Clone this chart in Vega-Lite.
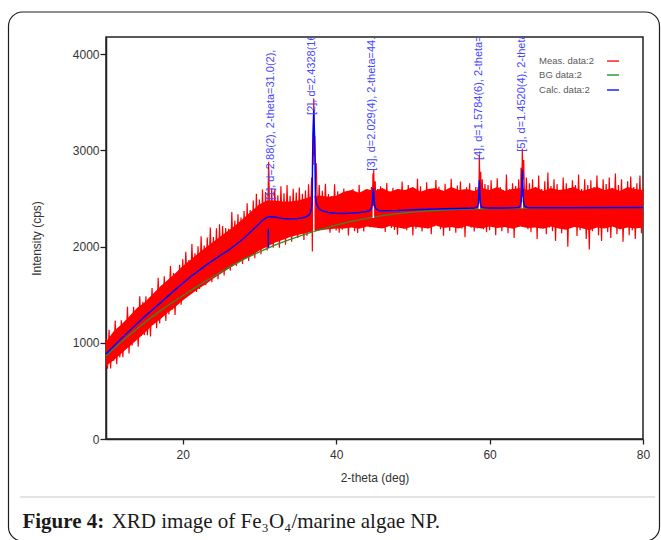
{
"$schema": "https://vega.github.io/schema/vega-lite/v6.json",
"width": 537, "height": 402,
"autosize": {"type": "none"},
"padding": {"left": 106, "top": 37, "right": 18, "bottom": 101},
"background": "white",
"config": {
  "view": {"stroke": "#222", "strokeWidth": 1.5},
  "font": "Liberation Sans",
  "axis": {"grid": false, "domainColor": "#222", "domainWidth": 1.5, "tickColor": "#222", "tickWidth": 1.3, "labelColor": "#333", "titleColor": "#333", "labelFontSize": 12, "titleFontSize": 12, "titleFontWeight": "normal", "labelFont": "Liberation Sans", "titleFont": "Liberation Sans"}
},
"datasets": {
  "core": [
{"t":10,"lo":760,"hi":1010},{"t":11,"lo":820,"hi":1120},{"t":12,"lo":890,"hi":1190},{"t":13,"lo":960,"hi":1270},
{"t":14,"lo":1030,"hi":1360},{"t":15,"lo":1100,"hi":1420},{"t":16,"lo":1180,"hi":1500},{"t":17,"lo":1240,"hi":1580},
{"t":18,"lo":1310,"hi":1650},{"t":19,"lo":1370,"hi":1720},{"t":20,"lo":1440,"hi":1800},{"t":21,"lo":1500,"hi":1860},
{"t":22,"lo":1560,"hi":1930},{"t":23,"lo":1610,"hi":1990},{"t":24,"lo":1670,"hi":2050},{"t":25,"lo":1720,"hi":2110},
{"t":26,"lo":1770,"hi":2170},{"t":27,"lo":1820,"hi":2230},{"t":28,"lo":1870,"hi":2300},{"t":29,"lo":1910,"hi":2370},
{"t":30,"lo":1960,"hi":2440},{"t":31,"lo":2000,"hi":2480},{"t":32,"lo":2040,"hi":2480},{"t":33,"lo":2070,"hi":2470},
{"t":34,"lo":2100,"hi":2470},{"t":35,"lo":2120,"hi":2480},{"t":36,"lo":2140,"hi":2500},{"t":37,"lo":2160,"hi":2530},
{"t":38,"lo":2170,"hi":2530},{"t":39,"lo":2180,"hi":2520},{"t":40,"lo":2190,"hi":2530},{"t":41,"lo":2190,"hi":2570},
{"t":42,"lo":2200,"hi":2590},{"t":43,"lo":2185,"hi":2560},{"t":44,"lo":2210,"hi":2600},{"t":45,"lo":2200,"hi":2580},
{"t":46,"lo":2190,"hi":2610},{"t":47,"lo":2215,"hi":2570},{"t":48,"lo":2200,"hi":2600},{"t":49,"lo":2185,"hi":2590},
{"t":50,"lo":2210,"hi":2620},{"t":51,"lo":2200,"hi":2570},{"t":52,"lo":2190,"hi":2600},{"t":53,"lo":2220,"hi":2610},
{"t":54,"lo":2195,"hi":2580},{"t":55,"lo":2205,"hi":2620},{"t":56,"lo":2190,"hi":2590},{"t":57,"lo":2215,"hi":2600},
{"t":58,"lo":2200,"hi":2580},{"t":59,"lo":2190,"hi":2610},{"t":60,"lo":2210,"hi":2590},{"t":61,"lo":2195,"hi":2620},
{"t":62,"lo":2205,"hi":2580},{"t":63,"lo":2185,"hi":2600},{"t":64,"lo":2210,"hi":2610},{"t":65,"lo":2195,"hi":2590},
{"t":66,"lo":2200,"hi":2620},{"t":67,"lo":2185,"hi":2580},{"t":68,"lo":2210,"hi":2610},{"t":69,"lo":2190,"hi":2590},
{"t":70,"lo":2175,"hi":2600},{"t":71,"lo":2205,"hi":2620},{"t":72,"lo":2195,"hi":2580},{"t":73,"lo":2170,"hi":2600},
{"t":74,"lo":2200,"hi":2620},{"t":75,"lo":2190,"hi":2590},{"t":76,"lo":2210,"hi":2610},{"t":77,"lo":2180,"hi":2580},
{"t":78,"lo":2200,"hi":2620},{"t":79,"lo":2190,"hi":2600},{"t":80,"lo":2200,"hi":2590}
  ],
  "meas": [
{"t":10.0,"v":1045},{"t":10.2,"v":731},{"t":10.4,"v":1137},{"t":10.6,"v":733},{"t":10.8,"v":1069},
{"t":11.0,"v":815},{"t":11.2,"v":1231},{"t":11.4,"v":777},{"t":11.6,"v":1153},{"t":11.8,"v":849},
{"t":12.0,"v":1235},{"t":12.2,"v":850},{"t":12.4,"v":1205},{"t":12.6,"v":950},{"t":12.8,"v":1375},
{"t":13.0,"v":890},{"t":13.2,"v":1285},{"t":13.4,"v":970},{"t":13.6,"v":1375},{"t":13.8,"v":1030},
{"t":14.0,"v":1335},{"t":14.2,"v":960},{"t":14.4,"v":1485},{"t":14.6,"v":1070},{"t":14.8,"v":1425},
{"t":15.0,"v":1080},{"t":15.2,"v":1484},{"t":15.4,"v":1078},{"t":15.6,"v":1432},{"t":15.8,"v":1066},
{"t":16.0,"v":1570},{"t":16.2,"v":1194},{"t":16.4,"v":1518},{"t":16.6,"v":1152},{"t":16.8,"v":1676},
{"t":17.0,"v":1200},{"t":17.2,"v":1594},{"t":17.4,"v":1288},{"t":17.6,"v":1692},{"t":17.8,"v":1226},
{"t":18.0,"v":1640},{"t":18.2,"v":1294},{"t":18.4,"v":1798},{"t":18.6,"v":1342},{"t":18.8,"v":1726},
{"t":19.0,"v":1290},{"t":19.2,"v":1704},{"t":19.4,"v":1408},{"t":19.6,"v":1812},{"t":19.8,"v":1396},
{"t":20.0,"v":1870},{"t":20.2,"v":1470},{"t":20.4,"v":1946},{"t":20.6,"v":1555},{"t":20.8,"v":1862},
{"t":21.0,"v":1520},{"t":21.2,"v":2027},{"t":21.4,"v":1580},{"t":21.6,"v":1931},{"t":21.8,"v":1530},
{"t":22.0,"v":2005},{"t":22.2,"v":1560},{"t":22.4,"v":2109},{"t":22.6,"v":1640},{"t":22.8,"v":2013},
{"t":23.0,"v":1600},{"t":23.2,"v":2096},{"t":23.4,"v":1690},{"t":23.6,"v":2198},{"t":23.8,"v":1630},
{"t":24.0,"v":2100},{"t":24.2,"v":1720},{"t":24.4,"v":2192},{"t":24.6,"v":1660},{"t":24.8,"v":2234},
{"t":25.0,"v":1760},{"t":25.2,"v":2215},{"t":25.4,"v":1700},{"t":25.6,"v":2195},{"t":25.8,"v":1800},
{"t":26.0,"v":2185},{"t":26.2,"v":1750},{"t":26.4,"v":2359},{"t":26.6,"v":1830},{"t":26.8,"v":2273},
{"t":27.0,"v":1800},{"t":27.2,"v":2338},{"t":27.4,"v":1880},{"t":27.6,"v":2304},{"t":27.8,"v":1820},
{"t":28.0,"v":2370},{"t":28.2,"v":1900},{"t":28.4,"v":2450},{"t":28.6,"v":1850},{"t":28.8,"v":2380},
{"t":29.0,"v":1930},{"t":29.2,"v":2480},{"t":29.4,"v":1880},{"t":29.6,"v":2550},{"t":29.8,"v":1980},
{"t":30.0,"v":2490},{"t":30.2,"v":1920},{"t":30.4,"v":2594},{"t":30.6,"v":2010},{"t":30.8,"v":2568},
{"t":31.0,"v":1960},{"t":31.2,"v":2882},{"t":31.4,"v":2040},{"t":31.6,"v":2606},{"t":31.8,"v":1990},
{"t":32.0,"v":2600},{"t":32.2,"v":2060},{"t":32.4,"v":2534},{"t":32.6,"v":1990},{"t":32.8,"v":2628},
{"t":33.0,"v":2080},{"t":33.2,"v":2554},{"t":33.4,"v":2020},{"t":33.6,"v":2642},{"t":33.8,"v":2100},
{"t":34.0,"v":2530},{"t":34.2,"v":2050},{"t":34.4,"v":2601},{"t":34.6,"v":2130},{"t":34.8,"v":2562},
{"t":35.0,"v":2090},{"t":35.2,"v":2615},{"t":35.4,"v":2150},{"t":35.6,"v":2550},{"t":35.8,"v":2070},
{"t":36.0,"v":2585},{"t":36.2,"v":2110},{"t":36.4,"v":2649},{"t":36.6,"v":2180},{"t":36.8,"v":2720},
{"t":36.9,"v":1950},{"t":36.95,"v":3000},{"t":37.0,"v":2850},{"t":37.08,"v":3540},{"t":37.15,"v":2950},
{"t":37.22,"v":3150},{"t":37.3,"v":2700},{"t":37.4,"v":2870},{"t":37.6,"v":2260},{"t":37.8,"v":2640},
{"t":38.0,"v":2190},{"t":38.2,"v":2580},{"t":38.4,"v":2200},{"t":38.6,"v":2654},{"t":38.8,"v":2221},
{"t":39.0,"v":2548},{"t":39.2,"v":2145},{"t":39.4,"v":2523},{"t":39.6,"v":2211},{"t":39.8,"v":2649},
{"t":40.0,"v":2167},{"t":40.2,"v":2575},{"t":40.4,"v":2145},{"t":40.6,"v":2505},{"t":40.8,"v":2175},
{"t":41.0,"v":2605},{"t":41.2,"v":2195},{"t":41.4,"v":2556},{"t":41.6,"v":2117},{"t":41.8,"v":2528},
{"t":42.0,"v":2219},{"t":42.2,"v":2600},{"t":42.4,"v":2161},{"t":42.6,"v":2502},{"t":42.8,"v":2143},
{"t":43.0,"v":2644},{"t":43.2,"v":2195},{"t":43.4,"v":2547},{"t":43.6,"v":2159},{"t":43.8,"v":2591},
{"t":44.0,"v":2213},{"t":44.2,"v":2577},{"t":44.4,"v":2202},{"t":44.6,"v":2620},{"t":44.7,"v":2330},
{"t":44.8,"v":2760},{"t":44.85,"v":2520},{"t":44.9,"v":2800},{"t":45.0,"v":2450},{"t":45.1,"v":2680},
{"t":45.2,"v":2280},{"t":45.4,"v":2600},{"t":45.6,"v":2195},{"t":45.8,"v":2628},
{"t":46.0,"v":2214},{"t":46.2,"v":2552},{"t":46.4,"v":2152},{"t":46.6,"v":2662},{"t":46.8,"v":2232},
{"t":47.0,"v":2572},{"t":47.2,"v":2193},{"t":47.4,"v":2613},{"t":47.6,"v":2173},{"t":47.8,"v":2543},
{"t":48.0,"v":2123},{"t":48.2,"v":2596},{"t":48.4,"v":2216},{"t":48.6,"v":2677},{"t":48.8,"v":2187},
{"t":49.0,"v":2539},{"t":49.2,"v":2170},{"t":49.4,"v":2641},{"t":49.6,"v":2232},{"t":49.8,"v":2584},
{"t":50.0,"v":2115},{"t":50.2,"v":2565},{"t":50.4,"v":2186},{"t":50.6,"v":2706},{"t":50.8,"v":2217},
{"t":51.0,"v":2628},{"t":51.2,"v":2158},{"t":51.4,"v":2578},{"t":51.6,"v":2249},{"t":51.8,"v":2669},
{"t":52.0,"v":2190},{"t":52.2,"v":2600},{"t":52.4,"v":2130},{"t":52.6,"v":2561},{"t":52.8,"v":2211},
{"t":53.0,"v":2692},{"t":53.2,"v":2242},{"t":53.4,"v":2622},{"t":53.6,"v":2182},{"t":53.8,"v":2583},
{"t":54.0,"v":2113},{"t":54.2,"v":2653},{"t":54.4,"v":2223},{"t":54.6,"v":2594},{"t":54.8,"v":2164},
{"t":55.0,"v":2705},{"t":55.2,"v":2205},{"t":55.4,"v":2565},{"t":55.6,"v":2145},{"t":55.8,"v":2635},
{"t":56.0,"v":2235},{"t":56.2,"v":2676},{"t":56.4,"v":2186},{"t":56.6,"v":2587},{"t":56.8,"v":2097},
{"t":57.0,"v":2618},{"t":57.2,"v":2228},{"t":57.4,"v":2658},{"t":57.6,"v":2198},{"t":57.8,"v":2578},
{"t":58.0,"v":2158},{"t":58.2,"v":2620},{"t":58.4,"v":2190},{"t":58.5,"v":2620},{"t":58.58,"v":2380},
{"t":58.67,"v":2950},{"t":58.75,"v":2560},{"t":58.85,"v":2780},{"t":58.95,"v":2300},{"t":59.05,"v":2700},
{"t":59.2,"v":2180},{"t":59.4,"v":2650},{"t":59.6,"v":2150},{"t":59.8,"v":2640},
{"t":60.0,"v":2170},{"t":60.2,"v":2690},{"t":60.4,"v":2230},{"t":60.6,"v":2580},{"t":60.8,"v":2120},
{"t":61.0,"v":2710},{"t":61.2,"v":2200},{"t":61.4,"v":2620},{"t":61.6,"v":2160},{"t":61.8,"v":2590},
{"t":62.0,"v":2240},{"t":62.2,"v":2750},{"t":62.4,"v":2140},{"t":62.6,"v":2600},{"t":62.8,"v":2210},
{"t":63.0,"v":2660},{"t":63.2,"v":2090},{"t":63.4,"v":2630},{"t":63.6,"v":2230},{"t":63.8,"v":2700},
{"t":64.0,"v":2250},{"t":64.1,"v":2820},{"t":64.2,"v":2560},{"t":64.27,"v":3020},{"t":64.35,"v":2700},
{"t":64.45,"v":2900},{"t":64.6,"v":2300},{"t":64.8,"v":2720},
{"t":65.0,"v":2180},{"t":65.2,"v":2660},{"t":65.4,"v":2150},{"t":65.6,"v":2700},{"t":65.8,"v":2230},
{"t":66.0,"v":2620},{"t":66.2,"v":2080},{"t":66.4,"v":2740},{"t":66.6,"v":2190},{"t":66.8,"v":2600},
{"t":67.0,"v":2240},{"t":67.2,"v":2680},{"t":67.4,"v":2130},{"t":67.6,"v":2770},{"t":67.8,"v":2200},
{"t":68.0,"v":2630},{"t":68.2,"v":2160},{"t":68.4,"v":2700},{"t":68.6,"v":2060},{"t":68.8,"v":2650},
{"t":69.0,"v":2220},{"t":69.2,"v":2590},{"t":69.4,"v":2140},{"t":69.6,"v":2720},{"t":69.8,"v":2180},
{"t":70.0,"v":2660},{"t":70.2,"v":2000},{"t":70.4,"v":2610},{"t":70.6,"v":2200},{"t":70.8,"v":2690},
{"t":71.0,"v":2230},{"t":71.2,"v":2640},{"t":71.4,"v":2110},{"t":71.6,"v":2750},{"t":71.8,"v":2170},
{"t":72.0,"v":2600},{"t":72.2,"v":2190},{"t":72.4,"v":2700},{"t":72.6,"v":2080},{"t":72.8,"v":2640},
{"t":73.0,"v":1970},{"t":73.2,"v":2690},{"t":73.4,"v":2160},{"t":73.6,"v":2620},{"t":73.8,"v":2230},
{"t":74.0,"v":2740},{"t":74.2,"v":2120},{"t":74.4,"v":2580},{"t":74.6,"v":2060},{"t":74.8,"v":2700},
{"t":75.0,"v":2200},{"t":75.2,"v":2650},{"t":75.4,"v":2150},{"t":75.6,"v":2720},{"t":75.8,"v":2090},
{"t":76.0,"v":2610},{"t":76.2,"v":2240},{"t":76.4,"v":2760},{"t":76.6,"v":2130},{"t":76.8,"v":2640},
{"t":77.0,"v":2180},{"t":77.2,"v":2700},{"t":77.4,"v":2050},{"t":77.6,"v":2590},{"t":77.8,"v":2210},
{"t":78.0,"v":2680},{"t":78.2,"v":2120},{"t":78.4,"v":2730},{"t":78.6,"v":2170},{"t":78.8,"v":2620},
{"t":79.0,"v":2080},{"t":79.2,"v":2660},{"t":79.4,"v":2200},{"t":79.6,"v":2740},{"t":79.8,"v":2140},
{"t":80.0,"v":2600}
  ],
  "bg": [
{"t":10,"v":865},{"t":12,"v":1010},{"t":14,"v":1145},{"t":16,"v":1270},{"t":18,"v":1385},{"t":20,"v":1490},
{"t":22,"v":1592},{"t":24,"v":1690},{"t":26,"v":1785},{"t":28,"v":1870},{"t":30,"v":1945},{"t":32,"v":2015},
{"t":34,"v":2075},{"t":36,"v":2130},{"t":38,"v":2180},{"t":40,"v":2225},{"t":42,"v":2262},{"t":44,"v":2295},
{"t":46,"v":2322},{"t":48,"v":2343},{"t":50,"v":2360},{"t":52,"v":2372},{"t":54,"v":2381},{"t":56,"v":2388},
{"t":58,"v":2393},{"t":60,"v":2396},{"t":64,"v":2400},{"t":70,"v":2403},{"t":80,"v":2405}
  ],
  "calc": [
{"t":10,"v":885},{"t":11,"v":965},{"t":12,"v":1045},{"t":13,"v":1120},{"t":14,"v":1195},{"t":15,"v":1270},
{"t":16,"v":1340},{"t":17,"v":1410},{"t":18,"v":1480},{"t":19,"v":1550},{"t":20,"v":1620},{"t":21,"v":1685},
{"t":22,"v":1745},{"t":23,"v":1805},{"t":24,"v":1860},{"t":25,"v":1915},{"t":26,"v":1965},{"t":27,"v":2025},
{"t":28,"v":2090},{"t":29,"v":2165},{"t":30,"v":2240},{"t":30.5,"v":2280},{"t":31,"v":2305},{"t":31.5,"v":2312},
{"t":32,"v":2308},{"t":32.5,"v":2300},{"t":33,"v":2294},{"t":34,"v":2290},{"t":35,"v":2293},{"t":35.5,"v":2298},
{"t":36,"v":2308},{"t":36.4,"v":2325},{"t":36.6,"v":2345},{"t":36.8,"v":2400},{"t":36.88,"v":2480},{"t":36.92,"v":2850},
{"t":36.98,"v":3150},{"t":37.08,"v":3420},{"t":37.18,"v":3150},{"t":37.26,"v":2850},{"t":37.3,"v":2520},{"t":37.4,"v":2460},
{"t":37.6,"v":2415},{"t":37.8,"v":2392},{"t":38,"v":2380},{"t":38.5,"v":2365},{"t":39,"v":2356},{"t":40,"v":2348},
{"t":41,"v":2346},{"t":42,"v":2350},{"t":43,"v":2356},{"t":44,"v":2366},{"t":44.4,"v":2378},{"t":44.6,"v":2400},
{"t":44.72,"v":2450},{"t":44.8,"v":2560},{"t":44.85,"v":2607},{"t":44.9,"v":2560},{"t":44.98,"v":2450},{"t":45.1,"v":2405},
{"t":45.3,"v":2385},{"t":45.6,"v":2376},{"t":46,"v":2373},{"t":48,"v":2377},{"t":50,"v":2385},{"t":52,"v":2390},
{"t":54,"v":2394},{"t":56,"v":2397},{"t":58,"v":2401},{"t":58.4,"v":2412},{"t":58.55,"v":2450},{"t":58.62,"v":2580},
{"t":58.67,"v":2690},{"t":58.72,"v":2580},{"t":58.8,"v":2450},{"t":58.95,"v":2412},{"t":59.3,"v":2404},{"t":60,"v":2401},
{"t":62,"v":2401},{"t":63.8,"v":2408},{"t":64.0,"v":2425},{"t":64.12,"v":2470},{"t":64.2,"v":2620},{"t":64.27,"v":2800},
{"t":64.34,"v":2620},{"t":64.42,"v":2470},{"t":64.55,"v":2425},{"t":64.8,"v":2410},{"t":65.2,"v":2404},{"t":70,"v":2404},
{"t":80,"v":2407}
  ],
  "whiteMarks": [
{"t":37.08,"v":2160,"v2":2850},{"t":44.85,"v":2298,"v2":2420},{"t":58.67,"v":2394,"v2":2500},{"t":64.27,"v":2400,"v2":2520}
  ],
  "blueMarks": [
{"t":31.16,"v":1990,"v2":2190}
  ],
  "labels": [
{"t":31.5,"v":2485,"text":"[1], d=2.88(2), 2-theta=31.0(2),"},
{"t":36.85,"v":3370,"text":"[2], d=2.4328(16), 2-theta=36.92(3)"},
{"t":44.7,"v":2790,"text":"[3], d=2.029(4), 2-theta=44.62(9)"},
{"t":58.6,"v":2900,"text":"[4], d=1.5784(6), 2-theta=58.42(3)"},
{"t":64.2,"v":2987,"text":"[5], d=1.4520(4), 2-theta=64.08(2)"}
  ]
},
"layer": [
  {
    "data": {"values": [{}]},
    "mark": {"type": "rect", "fill": "transparent", "stroke": "#1e1e1e", "strokeWidth": 1.2, "cornerRadius": 14},
    "encoding": {
      "x": {"datum": -2.71, "type": "quantitative", "scale": {"domain": [10, 80], "nice": false, "zero": false}, "title": "2-theta (deg)"},
      "x2": {"datum": 82.15},
      "y": {"datum": 4440, "type": "quantitative", "scale": {"domain": [0, 4180], "nice": false, "zero": false}, "title": "Intensity (cps)"},
      "y2": {"datum": -1061}
    }
  },
  {
    "data": {"values": [{}]},
    "mark": {"type": "rule", "stroke": "#c8c8c8", "strokeWidth": 1},
    "encoding": {
      "x": {"datum": -1.21, "type": "quantitative", "title": "2-theta (deg)"},
      "x2": {"datum": 81.57},
      "y": {"datum": -603, "type": "quantitative", "title": "Intensity (cps)"}
    }
  },
  {
    "data": {"values": [{}]},
    "mark": {"type": "text", "text": "Figure 4:", "font": "Liberation Serif", "fontSize": 21, "fontWeight": "bold", "align": "left", "baseline": "alphabetic", "color": "#1a1a1a"},
    "encoding": {
      "x": {"datum": -0.9, "type": "quantitative", "title": "2-theta (deg)"},
      "y": {"datum": -925, "type": "quantitative", "title": "Intensity (cps)"}
    }
  },
  {
    "data": {"values": [{}]},
    "mark": {"type": "text", "text": "XRD image of Fe₃O₄/marine algae NP.", "font": "Liberation Serif", "fontSize": 21, "align": "left", "baseline": "alphabetic", "color": "#1a1a1a"},
    "encoding": {
      "x": {"datum": 10.74, "type": "quantitative", "title": "2-theta (deg)"},
      "y": {"datum": -925, "type": "quantitative", "title": "Intensity (cps)"}
    }
  },
  {
    "data": {"name": "core"},
    "mark": {"type": "area", "color": "#ff0000", "opacity": 1},
    "encoding": {
      "x": {"field": "t", "type": "quantitative", "scale": {"domain": [10, 80], "nice": false, "zero": false},
            "axis": {"values": [20, 40, 60, 80], "title": "2-theta (deg)", "tickSize": 5, "labelPadding": 5, "titlePadding": 12, "labelFlush": false}},
      "y": {"field": "lo", "type": "quantitative", "scale": {"domain": [0, 4180], "nice": false, "zero": false},
            "axis": {"values": [0, 1000, 2000, 3000, 4000], "format": "d", "title": "Intensity (cps)", "tickSize": 6, "labelPadding": 1, "titlePadding": 29}},
      "y2": {"field": "hi"}
    }
  },
  {
    "data": {"name": "meas"},
    "mark": {"type": "line", "strokeWidth": 1.2, "color": "#ff0000"},
    "encoding": {
      "x": {"field": "t", "type": "quantitative", "title": "2-theta (deg)"},
      "y": {"field": "v", "type": "quantitative", "title": "Intensity (cps)"}
    }
  },
  {
    "data": {"name": "bg"},
    "mark": {"type": "line", "strokeWidth": 1.3, "color": "#2e8b2e"},
    "encoding": {
      "x": {"field": "t", "type": "quantitative", "title": "2-theta (deg)"},
      "y": {"field": "v", "type": "quantitative", "title": "Intensity (cps)"}
    }
  },
  {
    "data": {"name": "whiteMarks"},
    "mark": {"type": "rule", "stroke": "white", "strokeWidth": 1.5},
    "encoding": {
      "x": {"field": "t", "type": "quantitative", "title": "2-theta (deg)"},
      "y": {"field": "v", "type": "quantitative", "title": "Intensity (cps)"},
      "y2": {"field": "v2"}
    }
  },
  {
    "data": {"name": "calc"},
    "mark": {"type": "line", "strokeWidth": 1.5, "color": "#0000ff"},
    "encoding": {
      "x": {"field": "t", "type": "quantitative", "title": "2-theta (deg)"},
      "y": {"field": "v", "type": "quantitative", "title": "Intensity (cps)"}
    }
  },
  {
    "data": {"name": "blueMarks"},
    "mark": {"type": "rule", "stroke": "#0000ff", "strokeWidth": 1.5},
    "encoding": {
      "x": {"field": "t", "type": "quantitative", "title": "2-theta (deg)"},
      "y": {"field": "v", "type": "quantitative", "title": "Intensity (cps)"},
      "y2": {"field": "v2"}
    }
  },
  {
    "data": {"name": "labels"},
    "mark": {"type": "text", "angle": 270, "align": "left", "baseline": "middle", "fontSize": 11, "color": "#4646ff", "clip": true, "font": "Liberation Sans"},
    "encoding": {
      "x": {"field": "t", "type": "quantitative", "title": "2-theta (deg)"},
      "y": {"field": "v", "type": "quantitative", "title": "Intensity (cps)"},
      "text": {"field": "text"}
    }
  },
  {
    "data": {"values": [{}]},
    "mark": {"type": "text", "text": "Meas. data:2", "align": "left", "baseline": "middle", "fontSize": 9.5, "color": "#5a5a5a"},
    "encoding": {"x": {"datum": 66.45, "type": "quantitative", "title": "2-theta (deg)"}, "y": {"datum": 3930, "type": "quantitative", "title": "Intensity (cps)"}}
  },
  {
    "data": {"values": [{}]},
    "mark": {"type": "text", "text": "BG data:2", "align": "left", "baseline": "middle", "fontSize": 9.5, "color": "#5a5a5a"},
    "encoding": {"x": {"datum": 66.45, "type": "quantitative", "title": "2-theta (deg)"}, "y": {"datum": 3785, "type": "quantitative", "title": "Intensity (cps)"}}
  },
  {
    "data": {"values": [{}]},
    "mark": {"type": "text", "text": "Calc. data:2", "align": "left", "baseline": "middle", "fontSize": 9.5, "color": "#5a5a5a"},
    "encoding": {"x": {"datum": 66.45, "type": "quantitative", "title": "2-theta (deg)"}, "y": {"datum": 3629, "type": "quantitative", "title": "Intensity (cps)"}}
  },
  {
    "data": {"values": [{}]},
    "mark": {"type": "rule", "stroke": "#ff2020", "strokeWidth": 1.5},
    "encoding": {"x": {"datum": 75.31, "type": "quantitative", "title": "2-theta (deg)"}, "x2": {"datum": 76.88}, "y": {"datum": 3930, "type": "quantitative", "title": "Intensity (cps)"}}
  },
  {
    "data": {"values": [{}]},
    "mark": {"type": "rule", "stroke": "#2e9b2e", "strokeWidth": 1.5},
    "encoding": {"x": {"datum": 75.31, "type": "quantitative", "title": "2-theta (deg)"}, "x2": {"datum": 76.88}, "y": {"datum": 3785, "type": "quantitative", "title": "Intensity (cps)"}}
  },
  {
    "data": {"values": [{}]},
    "mark": {"type": "rule", "stroke": "#2020ff", "strokeWidth": 1.5},
    "encoding": {"x": {"datum": 75.31, "type": "quantitative", "title": "2-theta (deg)"}, "x2": {"datum": 76.88}, "y": {"datum": 3629, "type": "quantitative", "title": "Intensity (cps)"}}
  }
]
}
